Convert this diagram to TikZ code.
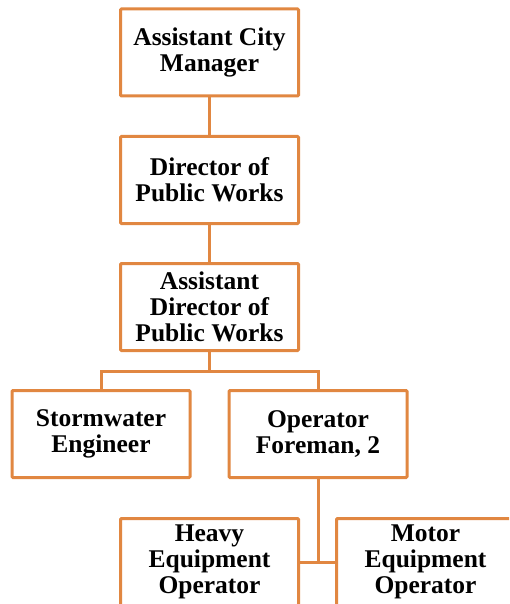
\documentclass[tikz,border=0pt]{standalone}
\usepackage{fontspec}
\setmainfont{Liberation Serif}
\usepackage{tikz}
\usepackage{xcolor}
\definecolor{orgorange}{RGB}{225,135,65}

\begin{document}
\begin{tikzpicture}[x=1pt,y=1pt,
                    unit/.style={draw=orgorange, line width=3pt, rounded corners=1pt,
                                 fill=white, minimum width=178pt, minimum height=87pt,
                                 inner sep=0pt, align=center,
                                 font=\bfseries\fontsize{25.5}{26}\selectfont},
                    link/.style={draw=orgorange, line width=3pt}]
                    \useasboundingbox (0,0) rectangle (509,-604);
                    \clip (0,0) rectangle (509,-604);
                    % chain of command
                    \node[unit] (acm)  at (209.5,-52.5) {Assistant City\\Manager};
                    \node[unit] (dpw)  at (209.5,-180) {Director of\\Public Works};
                    \node[unit] (adpw) at (209.5,-307) {Assistant\\Director of\\Public Works};
                    \node[unit] (sw)   at (101,-434) {Stormwater\\Engineer};
                    \node[unit] (of)   at (318,-434) {Operator\\Foreman, 2};
                    \node[unit] (heo)  at (209.5,-562) {Heavy\\Equipment\\Operator};
                    \node[unit] (meo)  at (425.5,-562) {Motor\\Equipment\\Operator};
                    % connectors
                    \coordinate (split) at (209.5,-371);
                    \coordinate (join)  at (318,-562);
                    \draw[link] (acm) -- (dpw);
                    \draw[link] (dpw) -- (adpw);
                    \draw[link] (adpw) -- (split);
                    \draw[link] (sw.north) |- (split) -| (of.north);
                    \draw[link] (of) -- (join);
                    \draw[link] (heo.east) -- (meo.west);
                \end{tikzpicture}
\end{document}
